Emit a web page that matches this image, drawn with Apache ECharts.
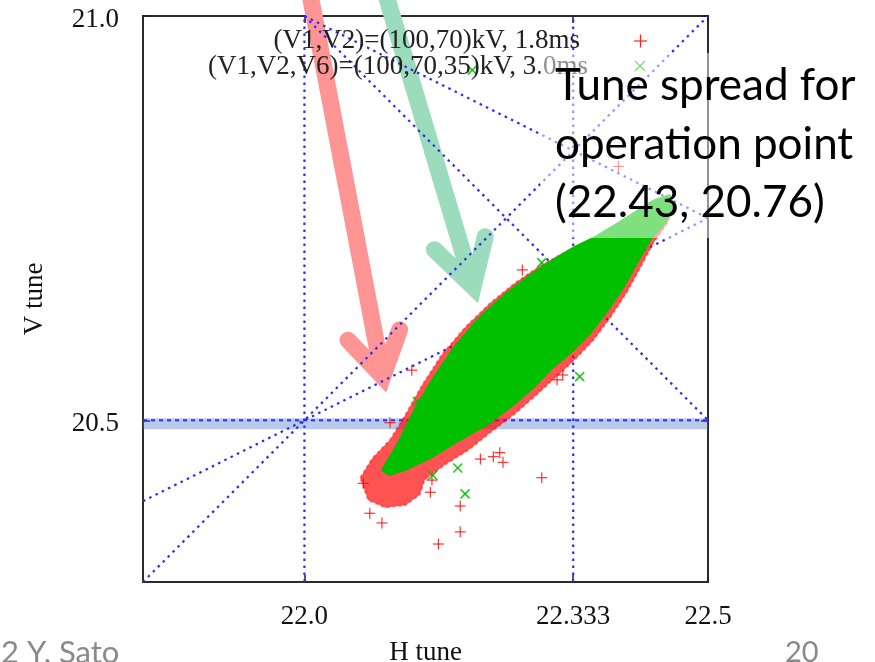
<!DOCTYPE html>
<html>
<head>
<meta charset="utf-8">
<script src="https://cdn.jsdelivr.net/npm/echarts@6/dist/echarts.min.js"></script>
<style>
  html, body { margin: 0; padding: 0; background: #fff; }
  #main { width: 875px; height: 662px; }
</style>
</head>
<body>
<div id="main"></div>
<script>
// axis ticks
const xTicks = [22.0, 22.333, 22.5];
const xTickLabels = ['22.0', '22.333', '22.5'];
const yTicks = [20.5, 21.0];
const yTickLabels = ['20.5', '21.0'];

// resonance lines, [start, end] in (H tune, V tune)
const resonanceLines = [
  [[22.0, 20.3], [22.0, 21.0]],
  [[22.333, 20.3], [22.333, 21.0]],
  [[21.8, 20.3], [22.5, 21.0]],
  [[21.8, 20.4], [22.5, 20.75]],
  [[22.0, 21.0], [22.5, 20.75]],
  [[22.0, 21.0], [22.5, 20.5]]
];
const halfIntLine = [[21.8, 20.5], [22.5, 20.5]];
const bandRange = [20.489, 20.5025];

// outline of the dense part of the tune spread (green) and its red fringe
const coreOutline = [
  [22.100, 20.439], [22.118, 20.469], [22.140, 20.513], [22.162, 20.550],
  [22.187, 20.587], [22.218, 20.624], [22.249, 20.652], [22.280, 20.676],
  [22.310, 20.696], [22.335, 20.711], [22.360, 20.723], [22.385, 20.738],
  [22.410, 20.754], [22.434, 20.769], [22.451, 20.775], [22.454, 20.763],
  [22.443, 20.745], [22.426, 20.725], [22.412, 20.701], [22.393, 20.667],
  [22.372, 20.636], [22.351, 20.609], [22.329, 20.587], [22.304, 20.566],
  [22.283, 20.544], [22.255, 20.520], [22.224, 20.497], [22.187, 20.476],
  [22.156, 20.457], [22.125, 20.442], [22.106, 20.436]
];
const fringeOutline = [
  [22.069, 20.429], [22.084, 20.453], [22.106, 20.476], [22.125, 20.507],
  [22.146, 20.544], [22.170, 20.581], [22.199, 20.615], [22.230, 20.645],
  [22.261, 20.670], [22.292, 20.691], [22.323, 20.708], [22.366, 20.729],
  [22.416, 20.758], [22.447, 20.777], [22.458, 20.766], [22.450, 20.745],
  [22.431, 20.717], [22.418, 20.692], [22.400, 20.659], [22.379, 20.627],
  [22.358, 20.599], [22.335, 20.575], [22.310, 20.552], [22.286, 20.530],
  [22.261, 20.508], [22.232, 20.486], [22.203, 20.463], [22.174, 20.445],
  [22.149, 20.426], [22.143, 20.408], [22.125, 20.395], [22.100, 20.392],
  [22.079, 20.401]
];
const redOutliers = [
  [22.270, 20.686], [22.133, 20.562], [22.106, 20.497], [22.294, 20.429],
  [22.158, 20.426], [22.156, 20.411], [22.193, 20.394], [22.193, 20.362],
  [22.166, 20.347], [22.096, 20.373], [22.081, 20.385], [22.073, 20.422],
  [22.320, 20.556], [22.313, 20.550], [22.389, 20.814], [22.218, 20.452],
  [22.234, 20.455], [22.246, 20.448], [22.242, 20.460]
];
const greenOutliers = [
  [22.294, 20.695], [22.341, 20.554], [22.140, 20.523], [22.190, 20.441],
  [22.199, 20.409], [22.159, 20.432], [22.208, 20.933]
];

// slide arrows: start, tip, left arm end, right arm end
const redArrow = [[22.007, 21.026], [22.097, 20.554], [22.054, 20.599], [22.118, 20.612]];
const greenArrow = [[22.101, 21.026], [22.209, 20.665], [22.161, 20.711], [22.224, 20.727]];

const serif = '"Liberation Serif", "Times New Roman", serif';
const sans = 'Lato, "Open Sans", sans-serif';

function pickLabel(ticks, labels) {
  return function (v) {
    let best = 0;
    ticks.forEach((t, i) => { if (Math.abs(t - v) < Math.abs(ticks[best] - v)) best = i; });
    return labels[best];
  };
}

function polygonSeries(pts, style, z) {
  return {
    type: 'custom',
    z: z,
    silent: true,
    data: [0],
    renderItem: function (params, api) {
      return {
        type: 'polygon',
        shape: { points: pts.map(p => api.coord(p)) },
        style: style
      };
    }
  };
}

function markerSeries(pts, kind, color, size, width, z) {
  return {
    type: 'custom',
    z: z,
    silent: true,
    data: pts,
    renderItem: function (params, api) {
      const p = api.coord([api.value(0), api.value(1)]);
      const h = size / 2;
      const segs = kind === 'plus'
        ? [[-h, 0, h, 0], [0, -h, 0, h]]
        : [[-h, -h, h, h], [-h, h, h, -h]];
      return {
        type: 'group',
        children: segs.map(s => ({
          type: 'line',
          shape: { x1: p[0] + s[0], y1: p[1] + s[1], x2: p[0] + s[2], y2: p[1] + s[3] },
          style: { stroke: color, lineWidth: width }
        }))
      };
    }
  };
}

const arrowColors = ['#ff9494', '#9bdcbc'];

const series = [];

resonanceLines.forEach(seg => {
  series.push({
    type: 'line',
    data: seg,
    symbol: 'none',
    silent: true,
    z: 2,
    lineStyle: { color: '#2a2aff', width: 2.2, type: [2.5, 4.5] }
  });
});

series.push({
  type: 'line',
  data: halfIntLine,
  symbol: 'none',
  silent: true,
  z: 2,
  lineStyle: { color: '#2a2aff', width: 2, type: [4, 4] }
});

series.push(polygonSeries(fringeOutline, { fill: 'rgba(255,0,0,0.68)', stroke: 'rgba(255,0,0,0.4)', lineWidth: 2, lineDash: [3, 3] }, 3));
series.push(polygonSeries(coreOutline, { fill: '#00c000', stroke: '#00c000', lineWidth: 7, lineJoin: 'round' }, 4));
series.push(markerSeries(redOutliers, 'plus', 'rgba(255,0,0,0.8)', 11, 1.2, 5));
series.push(markerSeries(greenOutliers, 'cross', 'rgba(0,190,0,0.85)', 9, 1.6, 6));

// blue band along 2*nu_y = 41
series.push({
  type: 'line',
  data: [],
  z: 8,
  silent: true,
  markArea: {
    silent: true,
    itemStyle: { color: 'rgba(68,114,196,0.38)' },
    data: [[{ yAxis: bandRange[0] }, { yAxis: bandRange[1] }]]
  }
});

// arrows pasted on the slide
series.push({
  type: 'custom',
  z: 1,
  silent: true,
  clip: false,
  data: [redArrow.flat(), greenArrow.flat()],
  renderItem: function (params, api) {
    const pt = i => api.coord([api.value(2 * i), api.value(2 * i + 1)]);
    const s = pt(0), t = pt(1), l = pt(2), r = pt(3);
    const c = arrowColors[params.dataIndex];
    return {
      type: 'group',
      children: [
        { type: 'line', shape: { x1: s[0], y1: s[1], x2: t[0], y2: t[1] }, style: { stroke: c, lineWidth: 17 } },
        { type: 'polyline', shape: { points: [l, t, r] }, style: { stroke: c, fill: null, lineWidth: 17, lineCap: 'round', lineJoin: 'miter' } }
      ]
    };
  }
});

const axisFont = { fontFamily: serif, fontSize: 27, color: '#111' };

const option = {
  animation: false,
  backgroundColor: '#fff',
  grid: {
    left: 143, top: 16, width: 565, height: 566,
    outerBoundsMode: 'none', containLabel: false,
    show: true, borderColor: '#2b2b2b', borderWidth: 2
  },
  xAxis: [
    {
      type: 'value', min: 21.8, max: 22.5,
      name: 'H tune', nameLocation: 'middle', nameGap: 57,
      nameTextStyle: axisFont,
      axisLine: { show: false },
      axisTick: { inside: true, length: 7, customValues: xTicks, lineStyle: { color: '#222', width: 1.5 } },
      axisLabel: { customValues: xTicks, formatter: pickLabel(xTicks, xTickLabels), margin: 21, ...axisFont },
      splitLine: { show: false }
    },
    {
      type: 'value', min: 21.8, max: 22.5, position: 'top',
      axisLine: { show: false },
      axisTick: { inside: true, length: 7, customValues: xTicks, lineStyle: { color: '#222', width: 1.5 } },
      axisLabel: { show: false },
      splitLine: { show: false }
    }
  ],
  yAxis: [
    {
      type: 'value', min: 20.3, max: 21.0,
      name: 'V tune', nameLocation: 'middle', nameGap: 95, nameRotate: 90,
      nameTextStyle: axisFont,
      axisLine: { show: false },
      axisTick: { inside: true, length: 7, customValues: yTicks, lineStyle: { color: '#222', width: 1.5 } },
      axisLabel: { customValues: yTicks, formatter: pickLabel(yTicks, yTickLabels), margin: 24, lineHeight: 31, verticalAlign: 'top', padding: [-12, 0, 0, 0], ...axisFont },
      splitLine: { show: false }
    },
    {
      type: 'value', min: 20.3, max: 21.0, position: 'right',
      axisLine: { show: false },
      axisTick: { inside: true, length: 7, customValues: yTicks, lineStyle: { color: '#222', width: 1.5 } },
      axisLabel: { show: false },
      splitLine: { show: false }
    }
  ],
  graphic: [
    // gnuplot key
    { type: 'text', x: 580, y: 41, z: 50, style: { text: '(V1,V2)=(100,70)kV, 1.8ms', font: '27px ' + serif, fill: '#222', align: 'right', verticalAlign: 'middle' } },
    { type: 'text', x: 588, y: 67, z: 50, style: { text: '(V1,V2,V6)=(100,70,35)kV, 3.0ms', font: '27px ' + serif, fill: '#222', align: 'right', verticalAlign: 'middle' } },
    { type: 'line', z: 50, shape: { x1: 634, y1: 41, x2: 647, y2: 41 }, style: { stroke: '#ff2020', lineWidth: 1.2 } },
    { type: 'line', z: 50, shape: { x1: 640.5, y1: 34.5, x2: 640.5, y2: 47.5 }, style: { stroke: '#ff2020', lineWidth: 1.2 } },
    { type: 'line', z: 50, shape: { x1: 635, y1: 61, x2: 645, y2: 71 }, style: { stroke: '#00c000', lineWidth: 1.4 } },
    { type: 'line', z: 50, shape: { x1: 635, y1: 71, x2: 645, y2: 61 }, style: { stroke: '#00c000', lineWidth: 1.4 } },
    // slide text box
    { type: 'rect', z: 100, shape: { x: 540, y: 53, width: 335, height: 185 }, style: { fill: 'rgba(255,255,255,0.5)' } },
    { type: 'text', x: 555, y: 86, z: 101, style: { text: 'Tune spread for', font: '44px ' + sans, fill: '#000', verticalAlign: 'middle' } },
    { type: 'text', x: 555, y: 145, z: 101, style: { text: 'operation point', font: '44px ' + sans, fill: '#000', verticalAlign: 'middle' } },
    { type: 'text', x: 555, y: 203, z: 101, style: { text: '(22.43, 20.76)', font: '44px ' + sans, fill: '#000', verticalAlign: 'middle' } },
    // slide footer
    { type: 'text', x: 1, y: 653, z: 101, style: { text: '2 Y. Sato', font: '31px ' + sans, fill: '#8a8a8a', verticalAlign: 'middle' } },
    { type: 'text', x: 785, y: 653, z: 101, style: { text: '20', font: '29px ' + sans, fill: '#8a8a8a', verticalAlign: 'middle' } }
  ],
  series: series
};

const chart = echarts.init(document.getElementById('main'), null, { renderer: 'canvas' });
chart.setOption(option);
</script>
</body>
</html>
